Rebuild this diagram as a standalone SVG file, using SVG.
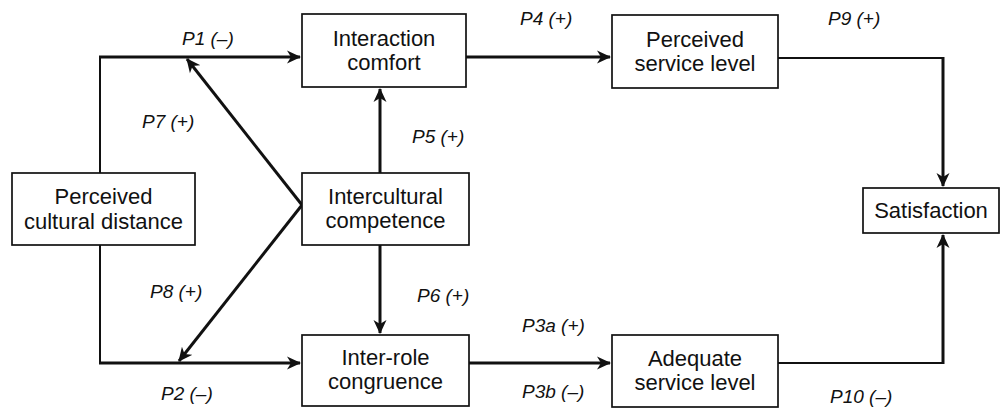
<svg xmlns="http://www.w3.org/2000/svg" width="1001" height="411" viewBox="0 0 1001 411">
<style>
.box{fill:#fff;stroke:#111;stroke-width:1.7}
.t{font-family:"Liberation Sans",Arial,sans-serif;font-size:22px;fill:#111;text-anchor:middle}
.l{font-family:"Liberation Sans",Arial,sans-serif;font-size:19px;font-style:italic;fill:#111}
.c{fill:none;stroke:#111;stroke-width:3}
.c2{fill:none;stroke:#111;stroke-width:2}
</style>
<defs>
<marker id="a" viewBox="0 0 14 14" refX="13" refY="7" markerWidth="14" markerHeight="14" markerUnits="userSpaceOnUse" orient="auto">
<path d="M0,0.5 L14,7 L0,13.5 L4,7 z" fill="#111"/>
</marker>
</defs>
<rect width="1001" height="411" fill="#fff"/>
<g id="connectors">
<path class="c2" d="M100,173 V57"/>
<path class="c" d="M99,57 H300" marker-end="url(#a)"/>
<path class="c2" d="M100,245 V363"/>
<path class="c" d="M99,363 H300" marker-end="url(#a)"/>
<path class="c" d="M302,205 L187,59" marker-end="url(#a)"/>
<path class="c" d="M302,205 L179,361" marker-end="url(#a)"/>
<path class="c" d="M380,173 V89" marker-end="url(#a)"/>
<path class="c" d="M380,245 V333" marker-end="url(#a)"/>
<path class="c" d="M466,57 H610" marker-end="url(#a)"/>
<path class="c" d="M469,363 H610" marker-end="url(#a)"/>
<path class="c2" d="M778,58 H943"/>
<path class="c" d="M943,57 V186" marker-end="url(#a)"/>
<path class="c2" d="M778,363 H943"/>
<path class="c" d="M943,364 V235" marker-end="url(#a)"/>
</g>
<g id="pcd">
<rect class="box" x="12" y="173" width="183" height="72"/>
<text class="t" x="103.5" y="204">Perceived</text>
<text class="t" x="103.5" y="229">cultural distance</text>
</g>
<g id="ic">
<rect class="box" x="302" y="14" width="164" height="73"/>
<text class="t" x="384" y="46">Interaction</text>
<text class="t" x="384" y="70">comfort</text>
</g>
<g id="icomp">
<rect class="box" x="302" y="173" width="167" height="72"/>
<text class="t" x="385.5" y="204">Intercultural</text>
<text class="t" x="385.5" y="228">competence</text>
</g>
<g id="irc">
<rect class="box" x="302" y="335" width="167" height="71"/>
<text class="t" x="385.5" y="365">Inter-role</text>
<text class="t" x="385.5" y="389">congruence</text>
</g>
<g id="psl">
<rect class="box" x="612" y="15" width="166" height="73"/>
<text class="t" x="695" y="47">Perceived</text>
<text class="t" x="695" y="71">service level</text>
</g>
<g id="asl">
<rect class="box" x="612" y="335" width="166" height="72"/>
<text class="t" x="695" y="366">Adequate</text>
<text class="t" x="695" y="390">service level</text>
</g>
<g id="sat">
<rect class="box" x="863" y="188" width="136" height="45"/>
<text class="t" x="931" y="218">Satisfaction</text>
</g>
<g id="labels">
<text class="l" x="182" y="45">P1 (–)</text>
<text class="l" x="142" y="128">P7 (+)</text>
<text class="l" x="412" y="143">P5 (+)</text>
<text class="l" x="520" y="25">P4 (+)</text>
<text class="l" x="828" y="25">P9 (+)</text>
<text class="l" x="150" y="298">P8 (+)</text>
<text class="l" x="417" y="302">P6 (+)</text>
<text class="l" x="161" y="400">P2 (–)</text>
<text class="l" x="522" y="332">P3a (+)</text>
<text class="l" x="522" y="398">P3b (–)</text>
<text class="l" x="830" y="403">P10 (–)</text>
</g>
</svg>
